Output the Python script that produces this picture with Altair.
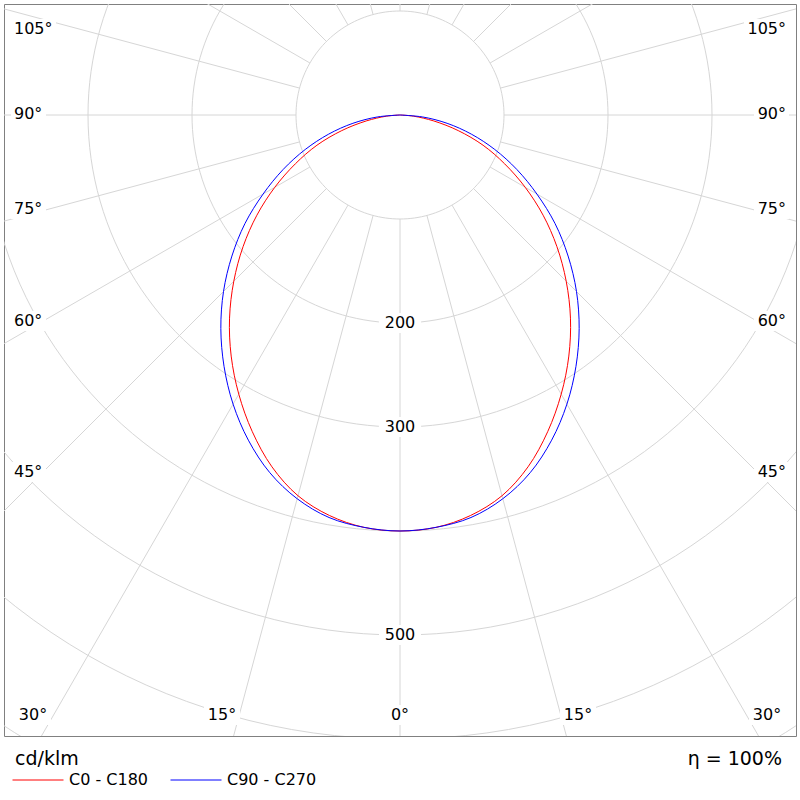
import altair as alt
import pandas as pd

# ---------------- data ----------------
gamma = [0, 5, 10, 15, 20, 25, 30, 35, 40, 45, 50, 55, 60, 65, 70, 75, 80, 85, 90]
c0_c180 = [400, 398, 391, 379, 360, 336, 310, 283, 255, 226, 197, 168, 139, 111, 85, 58, 33, 13, 0]
c90_c270 = [400, 398, 393, 382, 366, 345, 321, 295, 268, 240, 211, 182, 152, 124, 97, 71, 46, 22, 0]
series_names = ["C0 - C180", "C90 - C270"]
series_colors = ["#ff0000", "#0000ff"]

grid_radii = [100, 200, 300, 400, 500, 600, 700]
radial_angles = list(range(0, 360, 15))
radius_labels = [200, 300, 500]
edge_angles = [105, 90, 75, 60, 45]
bottom_angles = [30, 15, 0, 15, 30]
unit_label = "cd/klm"
efficiency_label = "η = 100%"

# ---------------- layout ----------------
S = 1.04                  # px per cd/klm
W, H = 792, 732           # plot area
CX, CY = 396, 111         # pole position inside plot area (px)
XD = [-CX / S, (W - CX) / S]
YD = [-(H - CY) / S, CY / S]
FONT = "DejaVu Sans"
LBL = 16

xs = alt.Scale(domain=XD, nice=False, zero=False)
ys = alt.Scale(domain=YD, nice=False, zero=False)


def X(f):
    return alt.X(f, type="quantitative", scale=xs, axis=None)


def Y(f):
    return alt.Y(f, type="quantitative", scale=ys, axis=None)


def px2x(px):
    return (px - 4 - CX) / S


def px2y(py):
    return (CY - (py - 4)) / S


# curves
rows = []
for name, vals in zip(series_names, [c0_c180, c90_c270]):
    k = 0
    for g, v in zip(gamma[::-1], vals[::-1]):
        rows.append(dict(series=name, g=g, I=v, side=-1, k=k)); k += 1
    for g, v in zip(gamma[1:], vals[1:]):
        rows.append(dict(series=name, g=g, I=v, side=1, k=k)); k += 1
curve_df = pd.DataFrame(rows)

# grid circles
circ_df = pd.DataFrame([dict(r=r, a=a) for r in grid_radii for a in range(0, 361, 2)])
rad_df = pd.DataFrame(dict(a=radial_angles))

circles = alt.Chart(circ_df).mark_line(color="#d6d6d6", strokeWidth=1, clip=True).transform_calculate(
    x="datum.r*sin(datum.a*PI/180)", y="datum.r*cos(datum.a*PI/180)"
).encode(x=X("x:Q"), y=Y("y:Q"), detail="r:N", order="a:Q")

radials = alt.Chart(rad_df).mark_rule(color="#d6d6d6", strokeWidth=1, clip=True).transform_calculate(
    x="100*sin(datum.a*PI/180)", y="-100*cos(datum.a*PI/180)",
    x2="1000*sin(datum.a*PI/180)", y2="-1000*cos(datum.a*PI/180)"
).encode(x=X("x:Q"), y=Y("y:Q"), x2="x2:Q", y2="y2:Q")

# label tables
CW = 10.0  # approx digit width px
DW = 8.0   # degree sign width px

rl_df = pd.DataFrame(dict(txt=[str(v) for v in radius_labels], r=radius_labels))
rl_df["x"] = 0.0
rl_df["y"] = -rl_df["r"].astype(float)
rl_df["x1"] = -21 / S
rl_df["x2"] = 21 / S
rl_df["y1"] = rl_df["y"] - 10 / S
rl_df["y2"] = rl_df["y"] + 10 / S

edge_y_px = [29, 114, 209, 321, 472]
el = []
for a, py in zip(edge_angles, edge_y_px):
    t = f"{a}°"
    w = (len(t) - 1) * CW + DW
    el.append(dict(txt=t, side="L", x=px2x(14), y=px2y(py),
                   x1=px2x(11), x2=px2x(14 + w + 4), y1=px2y(py + 10), y2=px2y(py - 10)))
    el.append(dict(txt=t, side="R", x=px2x(786), y=px2y(py),
                   x1=px2x(786 - w - 4), x2=px2x(789), y1=px2y(py + 10), y2=px2y(py - 10)))
el_df = pd.DataFrame(el)

bottom_x_px = [33, 222, 400, 578, 767]
bl = []
for a, px in zip(bottom_angles, bottom_x_px):
    t = f"{a}°"
    w = (len(t) - 1) * CW + DW
    bl.append(dict(txt=t, x=px2x(px), y=px2y(715), x1=px2x(px - w / 2 - 4), x2=px2x(px + w / 2 + 4),
                   y1=px2y(725), y2=px2y(705)))
bl_df = pd.DataFrame(bl)


def boxes(df):
    return alt.Chart(df).mark_rect(color="white", clip=True).encode(
        x=X("x1:Q"), x2="x2:Q", y=Y("y1:Q"), y2="y2:Q")


def texts(df, align):
    return alt.Chart(df).mark_text(font=FONT, fontSize=LBL, color="black", align=align,
                                   baseline="middle").encode(x=X("x:Q"), y=Y("y:Q"), text="txt:N")


curves = alt.Chart(curve_df).mark_line(strokeWidth=1, interpolate="catmull-rom").transform_calculate(
    x="datum.side*datum.I*sin(datum.g*PI/180)", y="-datum.I*cos(datum.g*PI/180)"
).encode(
    x=X("x:Q"), y=Y("y:Q"), order="k:Q",
    color=alt.Color("series:N", scale=alt.Scale(domain=series_names, range=series_colors),
                    legend=alt.Legend(orient="none", legendX=8, legendY=750, direction="horizontal",
                                      title=None,
                                      labelFont=FONT, labelFontSize=16, labelColor="black",
                                      symbolType="stroke", symbolSize=2601, symbolStrokeWidth=1,
                                      labelOffset=5, columnPadding=19, padding=0)),
)

footer = pd.DataFrame(dict(t=[unit_label, efficiency_label], side=["L", "R"]))
unit_txt = alt.Chart(footer[footer.side == "L"]).mark_text(
    font=FONT, fontSize=19, color="black", align="left", baseline="middle"
).encode(x=alt.value(11), y=alt.value(755), text="t:N")
eta_txt = alt.Chart(footer[footer.side == "R"]).mark_text(
    font=FONT, fontSize=19, color="black", align="right", baseline="middle"
).encode(x=alt.value(778), y=alt.value(755), text="t:N")

chart = alt.layer(
    circles, radials,
    boxes(rl_df), boxes(el_df), boxes(bl_df),
    texts(rl_df, "center"),
    texts(el_df[el_df.side == "L"], "left"),
    texts(el_df[el_df.side == "R"], "right"),
    texts(bl_df, "center"),
    curves, unit_txt, eta_txt,
).properties(
    width=W, height=H, autosize="none",
    padding={"left": 4, "top": 4, "right": 4, "bottom": 64},
    background="white",
).configure_view(stroke="#808080", strokeWidth=1)

chart.save("out.html", embed_options={"renderer": "svg", "actions": False})
